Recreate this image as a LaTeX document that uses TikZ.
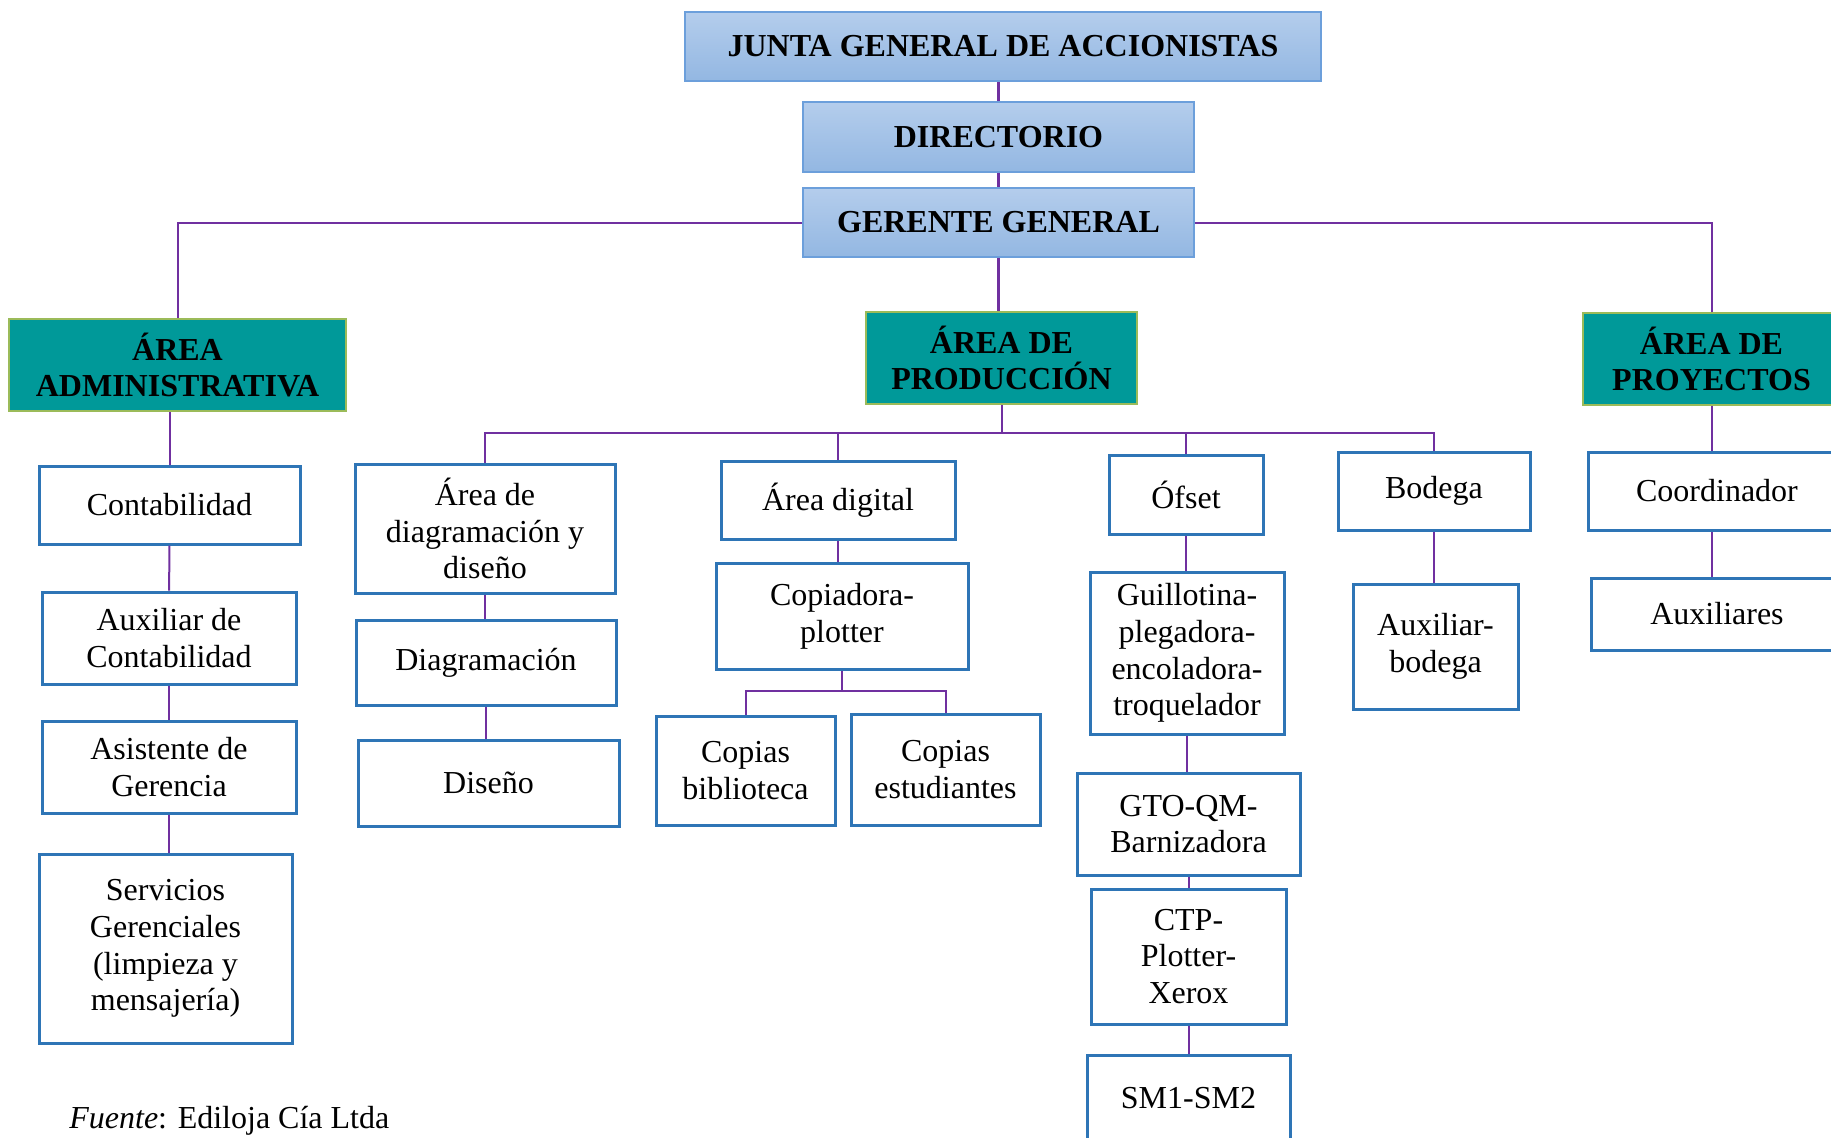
\documentclass[tikz,border=0pt]{standalone}
\usepackage{fontspec}
\setmainfont{Liberation Serif}
\usepackage{tikz}
\definecolor{cajaazul}{RGB}{46,117,182}
\definecolor{lineamorada}{RGB}{112,48,160}
\definecolor{verdeazul}{RGB}{0,153,153}
\definecolor{bordeverde}{RGB}{155,187,89}
\definecolor{celesteA}{RGB}{180,205,236}
\definecolor{celesteB}{RGB}{147,183,226}
\definecolor{bordeceleste}{RGB}{108,159,219}
\newcommand{\letra}{\fontsize{16pt}{18.3pt}\selectfont}
\tikzstyle{mando} = [draw=bordeceleste, line width=0.75pt, top color=celesteA, bottom color=celesteB, inner sep=0pt, font=\letra\bfseries]
\tikzstyle{area} = [draw=bordeverde, line width=0.75pt, fill=verdeazul, align=center, inner sep=0pt, font=\letra\bfseries]
\tikzstyle{puesto} = [draw=cajaazul, line width=1.5pt, fill=white, align=center, inner sep=0pt, font=\letra]
\tikzstyle{enlace} = [draw=lineamorada, line width=1pt]
\tikzstyle{enlacegrueso} = [draw=lineamorada, line width=1.5pt]

\begin{document}
\begin{tikzpicture}[x=0.5pt, y=-0.5pt]
			\useasboundingbox (0,0) rectangle (1831,1137);
			\clip (0,0) rectangle (1831,1137);
			% direccion
			\node[mando, minimum width=318pt, minimum height=34.5pt] (junta) at (1003,46.5) {JUNTA GENERAL DE ACCIONISTAS};
			\node[mando, minimum width=195.5pt, minimum height=35pt] (dir) at (998.5,137) {DIRECTORIO};
			\node[mando, minimum width=195.5pt, minimum height=34.5pt] (ger) at (998.5,222.5) {GERENTE GENERAL};
			% areas
			\node[area, minimum width=168.5pt, minimum height=46pt] (admin) at (177.5,365) {ÁREA\\ADMINISTRATIVA};
			\node[area, minimum width=135.5pt, minimum height=46pt] (prod) at (1001.5,358) {ÁREA DE\\PRODUCCIÓN};
			\node[area, minimum width=128.5pt, minimum height=46pt] (proy) at (1711.5,359) {ÁREA DE\\PROYECTOS};
			% administrativa
			\node[puesto, minimum width=130.5pt, minimum height=39pt] (conta) at (169.5,505) {Contabilidad};
			\node[puesto, minimum width=127pt, minimum height=46pt] (auxc) at (169,638) {Auxiliar de\\Contabilidad};
			\node[puesto, minimum width=127pt, minimum height=46pt] (asis) at (169,767) {Asistente de\\Gerencia};
			\node[puesto, minimum width=126.5pt, minimum height=94.5pt] (serv) at (165.5,948.5) {Servicios\\Gerenciales\\(limpieza y\\mensajería)};
			% produccion
			\node[puesto, minimum width=130pt, minimum height=64.5pt] (adiag) at (485,528.5) {Área de\\diagramación y\\diseño};
			\node[puesto, minimum width=130pt, minimum height=42.5pt] (diag) at (486,662.5) {Diagramación};
			\node[puesto, minimum width=130.5pt, minimum height=43pt] (dise) at (488.5,783) {Diseño};
			\node[puesto, minimum width=117pt, minimum height=39pt] (adig) at (838,500) {Área digital};
			\node[puesto, minimum width=126pt, minimum height=53pt] (copi) at (842,616) {Copiadora-\\plotter};
			\node[puesto, minimum width=89.5pt, minimum height=54.5pt] (cbib) at (745.5,770.5) {Copias\\biblioteca};
			\node[puesto, minimum width=94.5pt, minimum height=55.5pt] (cest) at (945.5,769.5) {Copias\\estudiantes};
			\node[puesto, minimum width=77pt, minimum height=39.5pt] (ofs) at (1186,494.5) {Ófset};
			\node[puesto, minimum width=97pt, minimum height=81pt] (guil) at (1187,653) {Guillotina-\\plegadora-\\encoladora-\\troquelador};
			\node[puesto, minimum width=111.5pt, minimum height=51pt] (gto) at (1188.5,824) {GTO-QM-\\Barnizadora};
			\node[puesto, minimum width=97.5pt, minimum height=67.5pt] (ctp) at (1188.5,956.5) {CTP-\\Plotter-\\Xerox};
			\node[puesto, minimum width=101.5pt, minimum height=43pt] (sm) at (1188.5,1098) {SM1-SM2};
			\node[puesto, minimum width=96pt, minimum height=39pt] (bod) at (1434,491) {Bodega};
			\node[puesto, minimum width=82.5pt, minimum height=62.5pt] (auxb) at (1435.5,646.5) {Auxiliar-\\bodega};
			% proyectos
			\node[puesto, minimum width=129pt, minimum height=39pt] (coor) at (1717,491) {Coordinador};
			\node[puesto, minimum width=126pt, minimum height=36pt] (auxs) at (1717,614) {Auxiliares};
			\node[anchor=base west, inner sep=0pt, font=\letra] (fuente) at (69,1128) {\textit{Fuente}: Ediloja Cía Ltda};
			% enlaces
			\coordinate (bus) at (1000,433);
			\coordinate (bus2) at (842,691);
			\draw[enlacegrueso] (dir.north) -- (dir.north |- junta.south);
			\draw[enlacegrueso] (dir.south) -- (ger.north);
			\draw[enlacegrueso] (ger.south) -- (ger.south |- prod.north);
			\draw[enlace] (ger.west) -| (admin.north);
			\draw[enlace] (ger.east) -| (proy.north);
			\draw[enlace] (conta.north) -- (conta.north |- admin.south);
			\draw[enlace] (conta) -- (auxc);
			\draw[enlace] (auxc) -- (asis);
			\draw[enlace] (asis) -- (serv.north -| asis.south);
			\draw[enlace] (prod.south) -- (prod.south |- bus);
			\draw[enlace] (adiag.north) |- (bus) -| (bod.north);
			\draw[enlace] (adig.north) -- (adig.north |- bus);
			\draw[enlace] (ofs.north) -- (ofs.north |- bus);
			\draw[enlace] (adiag) -- (diag.north -| adiag.south);
			\draw[enlace] (diag) -- (dise.north -| diag.south);
			\draw[enlace] (adig.south) -- (adig.south |- copi.north);
			\draw[enlace] (copi.south) -- (copi.south |- bus2);
			\draw[enlace] (cbib.north) |- (bus2) -| (cest.north);
			\draw[enlace] (ofs.south) -- (ofs.south |- guil.north);
			\draw[enlace] (guil.south) -- (guil.south |- gto.north);
			\draw[enlace] (gto) -- (ctp);
			\draw[enlace] (ctp) -- (sm);
			\draw[enlace] (bod) -- (auxb.north -| bod.south);
			\draw[enlace] (proy.south) -- (proy.south |- coor.north);
			\draw[enlace] (proy.south |- coor.south) -- (proy.south |- auxs.north);
		\end{tikzpicture}
\end{document}
